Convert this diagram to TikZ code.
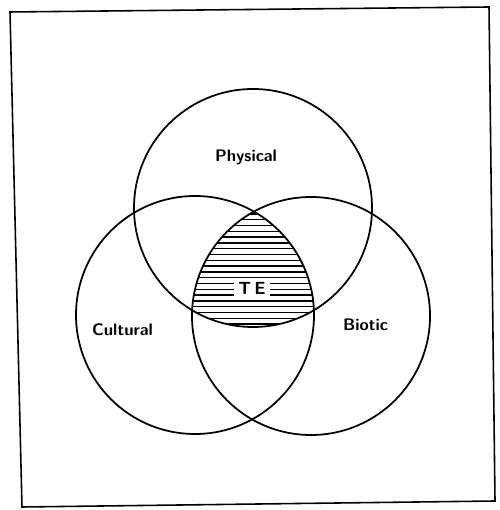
\documentclass[tikz,border=0pt]{standalone}
\usepackage{tikz}
\usetikzlibrary{calc}

\begin{document}
\begin{tikzpicture}[
  setcircle/.style={draw, circle, line width=1pt, minimum size=4.76cm, inner sep=0pt},
  setlabel/.style={font=\sffamily\bfseries\fontsize{9.5}{11}\selectfont, anchor=base},
  hatchline/.style={line width=0.8pt}]
  \useasboundingbox (0,0) rectangle (9.98,10.2);

  % Frame
  \draw[line width=0.9pt] (0.2,9.96) -- (9.78,10.06) -- (9.9,0.18) -- (0.44,0.06) -- cycle;

  % Three circles
  \node[setcircle] (phys) at (5.06,6.04) {};
  \node[setcircle] (cult) at (3.90,3.90) {};
  \node[setcircle] (biot) at (6.22,3.88) {};

  % Hatching of the common part
  \begin{scope}
    \clip (phys.center) circle (2.38);
    \clip (cult.center) circle (2.38);
    \clip (biot.center) circle (2.38);
    \foreach \y in {3.60,3.716,...,6.2}
      \draw[hatchline] (3,\y) -- (7,\y);
  \end{scope}

  % Labels
  \node[setlabel] (physlabel) at (4.92,6.96) {Physical};
  \node[setlabel] (cultlabel) at (2.45,3.48) {Cultural};
  \node[setlabel] (biotlabel) at (7.31,3.58) {Biotic};
  \node[fill=white, font=\sffamily\bfseries, inner sep=2.5pt] (te) at (5.04,4.43) {T\,E};
\end{tikzpicture}
\end{document}
